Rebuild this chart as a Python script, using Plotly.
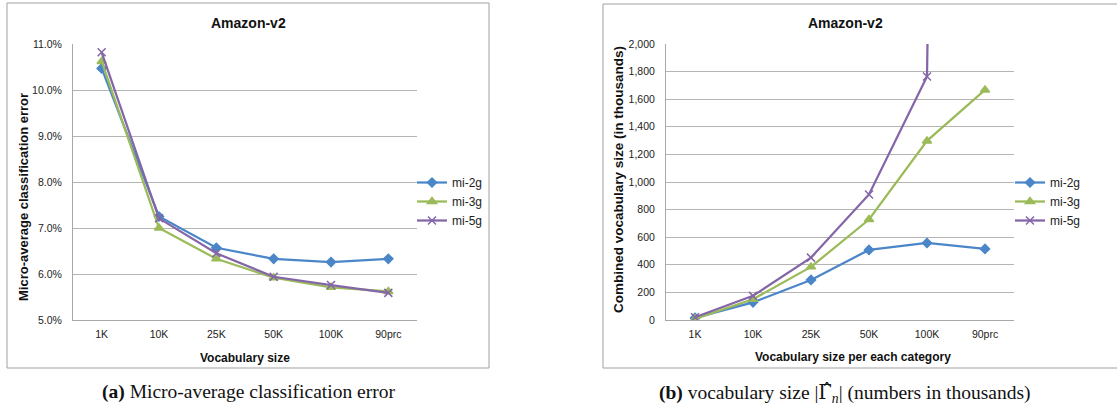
import plotly.graph_objects as go

W, H = 1117, 410

categories = ["1K", "10K", "25K", "50K", "100K", "90prc"]
series_names = ["mi-2g", "mi-3g", "mi-5g"]

# (a) micro-average classification error, in percent
err_mi2g = [10.47, 7.25, 6.57, 6.33, 6.26, 6.33]
err_mi3g = [10.62, 7.00, 6.33, 5.92, 5.71, 5.62]
err_mi5g = [10.82, 7.21, 6.45, 5.94, 5.76, 5.59]

# (b) combined vocabulary size, in thousands (mi-5g at 90prc goes far off the chart)
voc_mi2g = [15, 128, 290, 508, 558, 515]
voc_mi3g = [8, 150, 385, 728, 1298, 1667]
voc_mi5g = [20, 175, 452, 910, 1765, 30000]

left_y_ticks = [5, 6, 7, 8, 9, 10, 11]
left_y_labels = ["5.0%", "6.0%", "7.0%", "8.0%", "9.0%", "10.0%", "11.0%"]
right_y_ticks = [0, 200, 400, 600, 800, 1000, 1200, 1400, 1600, 1800, 2000]
right_y_labels = ["0", "200", "400", "600", "800", "1,000", "1,200", "1,400",
                  "1,600", "1,800", "2,000"]

colors = ["#4a86c8", "#9bbb59", "#8466a8"]
symbols = ["diamond", "triangle-up", "x-thin"]
msizes = [7, 8, 8]

def px(x):
    return x / W

def py(y):
    return 1 - y / H

fig = go.Figure()

err_data = [err_mi2g, err_mi3g, err_mi5g]
voc_data = [voc_mi2g, voc_mi3g, voc_mi5g]

for i in range(3):
    fig.add_trace(go.Scatter(
        x=categories, y=err_data[i], name=series_names[i], mode="lines+markers",
        line=dict(color=colors[i], width=2.25),
        marker=dict(symbol=symbols[i], size=msizes[i], color=colors[i],
                    line=dict(color=colors[i], width=1.5)),
        xaxis="x", yaxis="y", legend="legend", cliponaxis=True))
for i in range(3):
    fig.add_trace(go.Scatter(
        x=categories, y=voc_data[i], name=series_names[i], mode="lines+markers",
        line=dict(color=colors[i], width=2.25),
        marker=dict(symbol=symbols[i], size=msizes[i], color=colors[i],
                    line=dict(color=colors[i], width=1.5)),
        xaxis="x2", yaxis="y2", legend="legend2", cliponaxis=True))

font_fam = "Liberation Sans, Arial, sans-serif"
tick_font = dict(family=font_fam, size=10.5, color="#222222")
grid_c = "#b4b4b4"

xcommon = dict(type="category", range=[-0.5, 5.5], showgrid=False, showline=True,
               linecolor="#a8a8a8", linewidth=1, ticks="", tickfont=tick_font,
               ticklabelstandoff=4, fixedrange=True, zeroline=False, automargin=False)
ycommon = dict(showgrid=True, gridcolor=grid_c, gridwidth=1, showline=True,
               linecolor="#a8a8a8", linewidth=1, ticks="", tickfont=tick_font,
               ticklabelstandoff=8, zeroline=False, fixedrange=True, automargin=False)

fig.update_layout(
    width=W, height=H,
    margin=dict(l=0, r=0, t=0, b=0, autoexpand=False),
    paper_bgcolor="white", plot_bgcolor="white",
    xaxis=dict(domain=[px(73), px(417)], anchor="y", **xcommon),
    yaxis=dict(domain=[py(320), py(44)], anchor="x", range=[5, 11],
               tickvals=left_y_ticks, ticktext=left_y_labels, **ycommon),
    xaxis2=dict(domain=[px(666), px(1014)], anchor="y2", **xcommon),
    yaxis2=dict(domain=[py(320), py(44)], anchor="x2", range=[0, 2000],
                tickvals=right_y_ticks, ticktext=right_y_labels, **ycommon),
    legend=dict(x=px(412), y=py(168), xanchor="left", yanchor="top",
                font=dict(family=font_fam, size=12, color="#222222"),
                bgcolor="rgba(0,0,0,0)", itemwidth=30, tracegroupgap=0),
    legend2=dict(x=px(1010), y=py(168), xanchor="left", yanchor="top",
                 font=dict(family=font_fam, size=12, color="#222222"),
                 bgcolor="rgba(0,0,0,0)", itemwidth=30, tracegroupgap=0),
    showlegend=True,
)

# panel borders
fig.add_shape(type="rect", xref="paper", yref="paper",
              x0=px(7), x1=px(489), y0=py(368), y1=py(3),
              line=dict(color="#a0a0a0", width=1), layer="below")
fig.add_shape(type="rect", xref="paper", yref="paper",
              x0=px(603), x1=px(1118), y0=py(368), y1=py(4),
              line=dict(color="#a0a0a0", width=1), layer="below")

bold = dict(family=font_fam, color="#111111")
serif = "Liberation Serif, Times New Roman, serif"
ann = [
    dict(text="<b>Amazon-v2</b>", x=px(248), y=py(23), font=dict(size=14, **bold)),
    dict(text="<b>Amazon-v2</b>", x=px(845), y=py(23), font=dict(size=14, **bold)),
    dict(text="<b>Vocabulary size</b>", x=px(245), y=py(358), font=dict(size=12, **bold)),
    dict(text="<b>Vocabulary size per each category</b>", x=px(853), y=py(357),
         font=dict(size=12, **bold)),
    dict(text="<b>Micro-average classification error</b>", x=px(23), y=py(197),
         textangle=-90, font=dict(size=13, **bold)),
    dict(text="<b>Combined vocabulary size (in thousands)</b>", x=px(619), y=py(180),
         textangle=-90, font=dict(size=13.5, **bold)),
    dict(text="<b>(a)</b> Micro-average classification error", x=px(248), y=py(392),
         font=dict(family=serif, size=19.5, color="#111111")),
    dict(text="<b>(b)</b> vocabulary size |<span style=\"font-family:'DejaVu Serif'\">Γ\u0302</span>"
              "<sub><i>n</i></sub>| (numbers in thousands)",
         x=px(845), y=py(393),
         font=dict(family=serif, size=19.5, color="#111111")),
]
for a in ann:
    fig.add_annotation(xref="paper", yref="paper", showarrow=False,
                       xanchor="center", yanchor="middle", **a)

fig.write_html("out.html")
